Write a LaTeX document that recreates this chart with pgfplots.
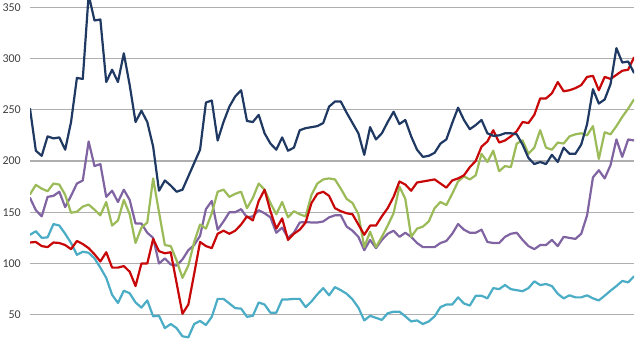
\documentclass[border=0pt]{standalone}
\usepackage{fontspec}
\setmainfont{Carlito}
\usepackage{pgfplots}
\usepackage{pgfplotstable}
\pgfplotsset{compat=1.18}
\definecolor{cnavy}{RGB}{31,57,99}
\definecolor{cred}{RGB}{200,8,8}
\definecolor{cgreen}{RGB}{155,187,89}
\definecolor{cpurple}{RGB}{128,100,162}
\definecolor{ccyan}{RGB}{75,172,198}
\definecolor{cgrid}{RGB}{175,175,175}
\definecolor{clabel}{RGB}{64,64,64}
\pgfplotstableread{
i navy red green purple cyan
0 251 120.5 167.5 164 128
1 210 121 176.7 152 131.5
2 205 117 173 146 125
3 224 116 170.5 165 125.5
4 222 120.5 178 166 138.5
5 223 120 177 170 137
6 211 118 167 155 129
7 238 114 149.5 166 120
8 281 122 150.5 178 108.5
9 280 119 155.5 181 111.5
10 362 115 157.5 219 110.5
11 337 109 152.5 195 105
12 338 102 147 197 96
13 277 111 160 165 86
14 289 96 137 171 69.5
15 277 96 142 160 61.5
16 305 97.5 162 172 73.5
17 274 92 148 162 71
18 238 78 120 139 62
19 249 100 135 139 57
20 238 100 140 130 64
21 214 124 183 125 48.5
22 171 112 150 100 49
23 181 110 118 105 37
24 176 111 117 99 41
25 170 81 103 98 37
26 172 51 86 104 29
27 185 60 98 113 28
28 198 90 121 118 41
29 211 121 138 127 44
30 257 117 134 153 40
31 259 115 149 161 48
32 220 129 170 133 65.5
33 238 132 172 141 65.5
34 253 129 165 150 61
35 263 132 168 150 56.5
36 269 138 170 153 56
37 239 146 154 145 48
38 238 142 164 146 49
39 245 161 178 152 62
40 227 172 172 149 60
41 217 151 159 145 52
42 211 134 148 130 52
43 223 144 160 135 65
44 210 123 145 125 65
45 213 129 151 130 65.5
46 230 133 148 140 65.5
47 232 140 146 140.5 57.5
48 233 159 167 140 63
49 234 168 178 140 70
50 237 170 182 141 76
51 253 166 183 145 69
52 258 154 182 147 77
53 258 151 173 147 74
54 247 149 163 136 70.5
55 237 148 159 132 65
56 227 138 148 126 57
57 206 128 116 113 44.5
58 233 137 131 123 49
59 221 137 116 115 47
60 227 146 126 123 45
61 238 154 137 129 51.5
62 248 165 149 132 53
63 236 180 175 126 53
64 240 177 163 130 48.5
65 224 171 126 126 43.5
66 211 179 134 120 44.5
67 204 180 136 116 41
68 205 181 141 116 43.5
69 208 182 154 116 48.5
70 217 178 160 120 57.5
71 221 174 157 122 60
72 237 181 168 129 60
73 252 183 180 138.5 67
74 240 186 185 133 61
75 231 194 182 130 59
76 235 200 186 130 68.5
77 240 214 207 133 68.6
78 227 219 199 121 66
79 224.5 230 210 120 76
80 225 218 190 120 75
81 227 220 195 126 79
82 227 224 194 129 75
83 226 229 217 130 74
84 216 238 220 123 73
85 203 237 207 117 76
86 197 245 213 114 82.6
87 199 261 230 118 79
88 197 261 213 118 80
89 206 266 211 123 78
90 199 277 218 117 70.5
91 213 268 217 126 66
92 207 269 224 125 69
93 207 271 226 124 67
94 216 274 227 129 67
95 236 282 225 147 69
96 270 283 234 184 66
97 256 269 202 191 64
98 260 282 228 183 68.6
99 275 280 226 196 73.5
100 310 284 234 221 78
101 296 288 243 204 83
102 297 289 251 221 81.6
103 286 301 260 220 87.5
}\data
\begin{document}
\begin{tikzpicture}
\begin{axis}[
  at={(30bp,0bp)}, anchor=south west,
  scale only axis, width=604bp, height=360bp,
  xmin=0, xmax=103, ymin=5.9, ymax=357,
  axis line style={draw=none},
  major tick length=0pt,
  xtick=\empty,
  ytick={50,100,...,350},
  ymajorgrids,
  grid style={cgrid, line width=1.2bp},
  /pgf/number format/assume math mode=true,
  yticklabel style={font=\fontsize{12bp}{14bp}\selectfont, text=clabel, anchor=east, inner sep=0pt, xshift=-9bp},
  every axis plot/.append style={line width=2.2bp, line join=round, line cap=round, no markers},
]
\addplot[ccyan] table[x=i, y=cyan] {\data};
\addplot[cpurple] table[x=i, y=purple] {\data};
\addplot[cgreen] table[x=i, y=green] {\data};
\addplot[cred] table[x=i, y=red] {\data};
\addplot[cnavy] table[x=i, y=navy] {\data};
\end{axis}
\pgfresetboundingbox
\path[use as bounding box] (0,0) rectangle (640bp,360bp);
\end{tikzpicture}
\end{document}
